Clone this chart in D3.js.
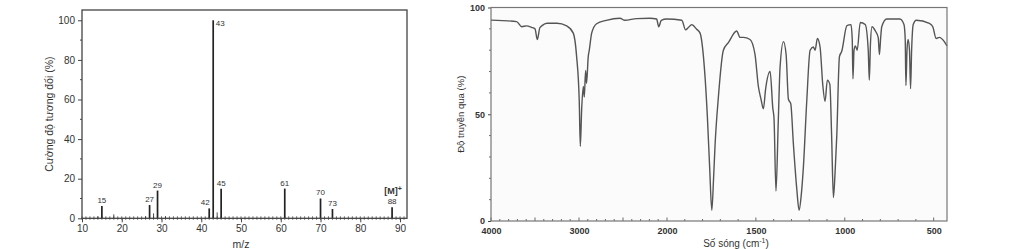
<!DOCTYPE html>
<html>
<head>
<meta charset="utf-8">
<script src="https://cdn.jsdelivr.net/npm/d3@7"></script>
<style>
  body { margin: 0; background: #fff; }
  text { font-family: "Liberation Sans", Arial, sans-serif; fill: #333; }
</style>
</head>
<body>
<div id="chart"></div>
<script>
// Mass spectrum data (m/z, relative intensity %)
const msMz = [14, 15, 18, 26, 27, 28, 29, 31, 42, 43, 44, 45, 61, 70, 73, 88];
const msInt = [1, 6.2, 2, 1, 6.7, 2.5, 14, 1, 5, 100, 3, 14.9, 15, 10, 4.7, 5.6];
const msLabelled = [15, 27, 29, 42, 43, 45, 61, 70, 73, 88];
const msXTicks = [10, 20, 30, 40, 50, 60, 70, 80, 90];
const msYTicks = [0, 20, 40, 60, 80, 100];

// IR spectrum data (wavenumber cm-1, transmittance %)
const irWn = [4000, 3710, 3650, 3595, 3540, 3500, 3474, 3445, 3420, 3365, 3250, 3140, 3065, 3027, 2997, 2985, 2970, 2951, 2940, 2925, 2914, 2895, 2883, 2856, 2800, 2690, 2535, 2480, 2345, 2195, 2118, 2094, 2065, 2004, 1917, 1895, 1880, 1861, 1833, 1814, 1795, 1773, 1760, 1748, 1738, 1730, 1711, 1683, 1655, 1608, 1589, 1570, 1533, 1505, 1486, 1471, 1458, 1445, 1420, 1405, 1398, 1387, 1374, 1364, 1345, 1330, 1317, 1304, 1289, 1270, 1257, 1245, 1233, 1214, 1195, 1177, 1167, 1154, 1139, 1124, 1111, 1098, 1084, 1074, 1064, 1055, 1045, 1030, 1017, 988, 965, 958, 954, 948, 940, 930, 913, 885, 868, 862, 856, 847, 828, 812, 805, 798, 792, 764, 690, 667, 660, 656, 650, 644, 636, 630, 624, 615, 598, 524, 505, 486, 468, 440, 425];
const irT = [94.1, 93.4, 91, 91.4, 90.7, 90, 85, 90.5, 91.5, 92.6, 92.6, 91.4, 88, 77, 56, 35, 52, 63, 58, 70.5, 64.5, 77, 80, 88, 92.4, 94, 95, 94, 94.8, 95, 94.6, 91, 94, 94.6, 94, 89.5, 90.6, 92, 89.8, 88, 77, 49, 25, 5, 20, 35, 58, 80, 83.5, 89, 86, 86, 85, 78, 63, 57, 52.5, 62, 70, 53, 48, 14, 47, 72, 84, 78, 57, 55, 36, 15, 5, 12, 25, 56, 80, 81.5, 80, 85.5, 81.5, 64, 56, 66, 64, 40, 11, 22, 40, 77, 79.5, 91.5, 92, 85, 66.6, 80, 82, 80, 93, 92, 80, 66, 82, 91, 89, 86, 78, 86, 91, 94.6, 94.6, 92, 85, 63.5, 80, 85, 80, 62, 80, 92, 94, 92.6, 91, 85.5, 86, 84, 82];
const irXTicks = [4000, 3000, 2000, 1500, 1000, 500];
const irYTicks = [0, 50, 100];

const svg = d3.select("#chart").append("svg")
    .attr("width", 1024)
    .attr("height", 249);

const frameColor = "#444";

// ---------- Mass spectrum ----------
const ms = { left: 82, right: 407, top: 10, bottom: 218.3 };
const xMs = d3.scaleLinear().domain([10, 91.75]).range([ms.left, ms.right]);
const yMs = d3.scaleLinear().domain([0, 105.2]).range([ms.bottom, ms.top]);

const gMs = svg.append("g");

// minor x ticks every 1
gMs.append("g")
    .selectAll("line")
    .data(d3.range(10, 92, 1))
    .join("line")
    .attr("x1", d => xMs(d)).attr("x2", d => xMs(d))
    .attr("y1", ms.bottom - 2).attr("y2", ms.bottom + 1.5)
    .attr("stroke", frameColor).attr("stroke-width", 0.8);

// major x ticks
gMs.append("g")
    .attr("transform", `translate(0,${ms.bottom})`)
    .call(d3.axisBottom(xMs).tickValues(msXTicks).tickSize(4).tickPadding(3))
    .call(g => g.select(".domain").remove())
    .call(g => g.selectAll("line").attr("stroke", frameColor))
    .call(g => g.selectAll("text").style("font-size", "10px").attr("fill", "#333"));

// y ticks
gMs.append("g")
    .attr("transform", `translate(${ms.left},0)`)
    .call(d3.axisLeft(yMs).tickValues(msYTicks).tickSize(4).tickPadding(3))
    .call(g => g.select(".domain").remove())
    .call(g => g.selectAll("line").attr("stroke", frameColor))
    .call(g => g.selectAll("text").style("font-size", "10px").attr("fill", "#333"));

gMs.append("g")
    .selectAll("line")
    .data([10, 30, 50, 70, 90])
    .join("line")
    .attr("x1", ms.left - 2).attr("x2", ms.left)
    .attr("y1", d => yMs(d)).attr("y2", d => yMs(d))
    .attr("stroke", frameColor);

// bars
gMs.append("g")
    .selectAll("line")
    .data(msMz.map((m, i) => ({ m: m, v: msInt[i] })))
    .join("line")
    .attr("x1", d => xMs(d.m)).attr("x2", d => xMs(d.m))
    .attr("y1", yMs(0)).attr("y2", d => yMs(d.v))
    .attr("stroke", "#222")
    .attr("stroke-width", d => d.v > 3 ? 1.7 : 0.8);

// peak labels
const labelData = msMz.map((m, i) => ({ m: m, v: msInt[i] })).filter(d => msLabelled.includes(d.m));
gMs.append("g")
    .selectAll("text")
    .data(labelData)
    .join("text")
    .attr("x", d => d.m === 43 ? xMs(d.m) + 2.5 : d.m === 42 ? xMs(d.m) - 4 : xMs(d.m))
    .attr("y", d => d.m === 43 ? yMs(d.v) + 6 : yMs(d.v) - 3)
    .attr("text-anchor", d => d.m === 43 ? "start" : "middle")
    .style("font-size", "8px")
    .text(d => d.m);

// molecular ion label
const mIon = gMs.append("text")
    .attr("x", xMs(88) + 1)
    .attr("y", yMs(5.6) - 13)
    .attr("text-anchor", "middle")
    .style("font-size", "9px")
    .style("font-weight", "bold");
mIon.append("tspan").text("[M]");
mIon.append("tspan").attr("dy", -3).style("font-size", "7px").text("+");

// frame
gMs.append("rect")
    .attr("x", ms.left).attr("y", ms.top)
    .attr("width", ms.right - ms.left).attr("height", ms.bottom - ms.top)
    .attr("fill", "none").attr("stroke", frameColor).attr("stroke-width", 1.3);

// axis titles
gMs.append("text")
    .attr("transform", `translate(50,${(ms.top + ms.bottom) / 2}) rotate(-90)`)
    .attr("text-anchor", "middle")
    .attr("dominant-baseline", "middle")
    .style("font-size", "10.5px")
    .text("Cường độ tương đối (%)");

gMs.append("text")
    .attr("x", xMs(50))
    .attr("y", 248)
    .attr("text-anchor", "middle")
    .style("font-size", "10.5px")
    .text("m/z");

// ---------- IR spectrum ----------
const ir = { left: 491, right: 947, top: 7.5, bottom: 221 };
const xIr = d3.scaleLinear().domain([4000, 2000, 425]).range([ir.left, 667, ir.right]);
const yIr = d3.scaleLinear().domain([0, 100]).range([ir.bottom, ir.top]);

const gIr = svg.append("g");

gIr.append("rect")
    .attr("x", ir.left).attr("y", ir.top)
    .attr("width", ir.right - ir.left).attr("height", ir.bottom - ir.top)
    .attr("fill", "#fbfbfb");

// minor x ticks
gIr.append("g")
    .selectAll("line")
    .data(d3.range(500, 4001, 100))
    .join("line")
    .attr("x1", d => xIr(d)).attr("x2", d => xIr(d))
    .attr("y1", ir.bottom).attr("y2", d => ir.bottom - (d % 500 === 0 ? 3.5 : 2))
    .attr("stroke", frameColor).attr("stroke-width", 0.8);

gIr.append("g")
    .attr("transform", `translate(0,${ir.bottom})`)
    .call(d3.axisBottom(xIr).tickValues(irXTicks).tickFormat(d3.format("d")).tickSize(0).tickPadding(7))
    .call(g => g.select(".domain").remove())
    .call(g => g.selectAll("text").style("font-size", "9px").style("font-weight", "bold").attr("fill", "#444"));

gIr.append("g")
    .attr("transform", `translate(${ir.left},0)`)
    .call(d3.axisLeft(yIr).tickValues(irYTicks).tickSize(3).tickPadding(3))
    .call(g => g.select(".domain").remove())
    .call(g => g.selectAll("line").attr("stroke", frameColor))
    .call(g => g.selectAll("text").style("font-size", "9px").style("font-weight", "bold").attr("fill", "#444"));

gIr.append("g")
    .selectAll("line")
    .data([10, 20, 30, 40, 60, 70, 80, 90])
    .join("line")
    .attr("x1", ir.left - 2).attr("x2", ir.left)
    .attr("y1", d => yIr(d)).attr("y2", d => yIr(d))
    .attr("stroke", frameColor).attr("stroke-width", 0.8);

// spectrum line
const line = d3.line()
    .x(d => xIr(d[0]))
    .y(d => yIr(d[1]))
    .curve(d3.curveMonotoneX);

gIr.append("path")
    .datum(irWn.map((w, i) => [w, irT[i]]))
    .attr("fill", "none")
    .attr("stroke", "#555")
    .attr("stroke-width", 1.4)
    .attr("d", line);

gIr.append("rect")
    .attr("x", ir.left).attr("y", ir.top)
    .attr("width", ir.right - ir.left).attr("height", ir.bottom - ir.top)
    .attr("fill", "none").attr("stroke", "#777").attr("stroke-width", 1.2);

gIr.append("text")
    .attr("transform", `translate(461,${(ir.top + ir.bottom) / 2}) rotate(-90)`)
    .attr("text-anchor", "middle")
    .attr("dominant-baseline", "middle")
    .style("font-size", "9.5px")
    .text("Độ truyền qua (%)");

const irTitle = gIr.append("text")
    .attr("x", 736)
    .attr("y", 247)
    .attr("text-anchor", "middle")
    .style("font-size", "10px");
irTitle.append("tspan").text("Số sóng (cm");
irTitle.append("tspan").attr("dy", -4).style("font-size", "7px").text("-1");
irTitle.append("tspan").attr("dy", 4).text(")");
</script>
</body>
</html>
